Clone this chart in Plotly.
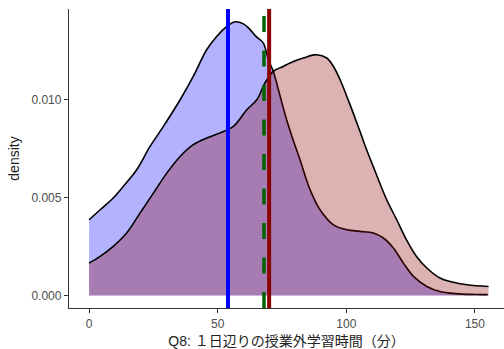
import plotly.graph_objects as go

# Density estimate of group A (blue)
blue_x = [0, 4.3, 9.4, 13.3, 18.5, 23.7, 28.9, 35.4, 40.5, 45.7, 49.6, 52.8,
          56.5, 60.0, 62.6, 65.0, 67.7, 69.7, 71.6, 74.2, 76.8, 79.4, 82.0,
          85.9, 89.8, 95.0, 100.2, 105.3, 110.5, 114.4, 118.3, 122.2, 126.1,
          131.3, 136.4, 140.3, 145.0, 150.0, 155.0]
blue_y = [0.00386, 0.00437, 0.00497, 0.00556, 0.00641, 0.00760, 0.00862,
          0.00998, 0.01117, 0.01253, 0.01321, 0.01364, 0.01395, 0.01385,
          0.01356, 0.01320, 0.01288, 0.01203, 0.01143, 0.01020, 0.00896,
          0.00790, 0.00692, 0.00540, 0.00437, 0.00360, 0.00335, 0.00327,
          0.00318, 0.00293, 0.00242, 0.00165, 0.00097, 0.00046, 0.00020,
          0.00012, 0.00007, 0.00005, 0.00004]

# Density estimate of group B (dark red)
red_x = [0, 4.3, 9.4, 14.6, 19.8, 25.0, 30.2, 35.4, 40.5, 45.7, 50.9, 56.1,
         61.3, 65.2, 68.4, 71.6, 75.5, 78.1, 83.3, 88.5, 92.4, 95.0, 97.6,
         100.2, 102.7, 105.3, 107.9, 111.0, 115.7, 119.6, 123.4, 127.3,
         131.3, 136.4, 140.3, 146.9, 155.3]
red_y = [0.00165, 0.00199, 0.00250, 0.00318, 0.00420, 0.00522, 0.00624,
         0.00709, 0.00769, 0.00803, 0.00829, 0.00862, 0.00947, 0.00998,
         0.01084, 0.01143, 0.01168, 0.01186, 0.01211, 0.01228, 0.01211,
         0.01168, 0.01100, 0.01015, 0.00930, 0.00837, 0.00743, 0.00640,
         0.00488, 0.00386, 0.00284, 0.00199, 0.00140, 0.00089, 0.00071,
         0.00055, 0.00046]

# Reference lines: group means and overall mean
mean_blue = 54.0
mean_overall = 68.0
mean_red = 70.0

x_ticks = [0, 50, 100, 150]
y_ticks = [0.000, 0.005, 0.010]

FONT = "Liberation Sans, Arial, Noto Sans CJK JP, sans-serif"

fig = go.Figure()

fig.add_trace(go.Scatter(
    x=blue_x, y=blue_y, mode="lines", fill="tozeroy",
    fillcolor="rgba(0,0,255,0.3)",
    line=dict(color="black", width=1.6, shape="spline", smoothing=1.0),
    showlegend=False, hoverinfo="skip",
))
fig.add_trace(go.Scatter(
    x=red_x, y=red_y, mode="lines", fill="tozeroy",
    fillcolor="rgba(139,0,0,0.3)",
    line=dict(color="black", width=1.6, shape="spline", smoothing=1.0),
    showlegend=False, hoverinfo="skip",
))

fig.add_vline(x=mean_blue, line=dict(color="#0000ff", width=4))
fig.add_vline(x=mean_overall, line=dict(color="#006400", width=3.5, dash="16px,18.5px"))
fig.add_vline(x=mean_red, line=dict(color="#8b0000", width=4))

axis_common = dict(
    showgrid=False, zeroline=False, showline=True,
    linecolor="#333333", linewidth=1.3,
    ticks="outside", ticklen=4, tickwidth=1.1, tickcolor="#333333",
    tickfont=dict(family=FONT, size=12, color="#4d4d4d"),
    mirror=False,
)

fig.update_layout(
    width=504, height=349,
    margin=dict(l=69, r=0, t=9, b=41),
    plot_bgcolor="white", paper_bgcolor="white",
    xaxis=dict(
        range=[-7.8, 161.3], tickvals=x_ticks,
        ticktext=[str(v) for v in x_ticks],
        title=dict(text="Q8: １日辺りの授業外学習時間（分）",
                   font=dict(family=FONT, size=14, color="#222222"),
                   standoff=6),
        **axis_common,
    ),
    yaxis=dict(
        range=[-0.00064, 0.01461], tickvals=y_ticks, tickformat=".3f",
        title=dict(text="density",
                   font=dict(family=FONT, size=14, color="#222222"),
                   standoff=8),
        **axis_common,
    ),
)

fig.write_html("out.html")
